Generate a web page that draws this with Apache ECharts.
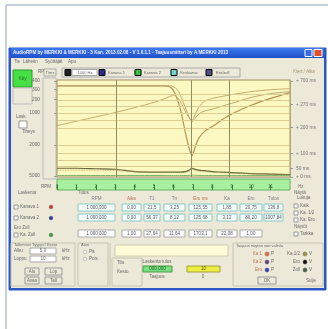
<!DOCTYPE html>
<html><head><meta charset="utf-8">
<script src="https://cdn.jsdelivr.net/npm/echarts@6/dist/echarts.min.js"></script>
<style>html,body{margin:0;padding:0;background:#fff}#c{width:328px;height:329px}</style>
</head><body><div id="c"></div>
<script>
// ---- data ----
const time = [0,1,2,3,4,5,5.5,5.8,6.0,6.2,6.4,6.6,6.8,6.95,7.1,7.3,7.6,8.0,8.5,9,10,11,12];
const ch1  = [94,94,94,94,94,94,94,93,89,80,66,47,30,22,30,40,47,52,59,65,74,81,87];
const ch2  = [53,57.5,62,66.5,71.5,77,80.5,83,84,82,76,68,61,58,64,72,78,81,83,85,88,90,91];
const diff = [94,94,94,94,94,94,94,94,93,90,82,72,62,57,60,65,68,70,73,76,82,86,88];
const zoll = [9,9,8.5,8,5.5,5,5,5,5,5,5,5.5,7,9,8,7,6.5,5.5,5,4.5,3.5,3,2.5];
const avg  = [7,7,7,6.5,5.5,5,5,5,5,5,5,5,6,7.5,7,6,5.5,5,4.5,4,3.5,3,2.5];
const base = [1.5,1.5,1.5,1.5,1.5,1.5,1.5,1.5,1.5,1.5,1.5,1.5,1.5,2,1.8,1.6,1.5,1.5,1.5,1.5,1.5,1.5,1.5];
const leftTicks = [99,90,80,66,33,1];
const leftLabels = ['400','300','200','1000','2000','5000'];
const rightTicks = [99,75,51,24,9,0];
const rightLabels = ['+ 700 ms','+ 270 ms','+ 200 ms','+ 100 ms','50 ms','+ 0 ms'];
const xTicks = [0,1,2,3,4,5,6,7,8,9,10,11];
const xLabels = ['0','1','2','3','4','5','6','7','8','9','10','11'];
const gridLines = [85,79,73,66,58,50.5,33,25,17.5,11];
const cursorX = [3.05,6.9,8.85];
const headers = ['RPM','Aika','T1','Tn','Ero ms','Ka','Ero','Tulos'];
const row1 = ['1 000,000','0,00','21,5','3,25','125,55','1,85','20,75','136,8'];
const row2 = ['1 000,000','0,00','56,37','8,12','125,68','3,12','80,20','1007,84'];
const row3 = ['1 000,000','1,00','27,64','11,64','1703,1','22,08','1,00',''];

// ---- helpers for window chrome ----
const g = [];
const F = '"Liberation Sans", Arial, sans-serif';
function R(x,y,w,h,fill,stroke,z){g.push({type:'rect',z:z==null?-5:z,shape:{x,y,width:w,height:h},style:{fill:fill||'none',stroke:stroke||null,lineWidth:1}});}
function T(x,y,s,o){o=o||{};g.push({type:'text',z:o.z==null?-4:o.z,style:{text:s,x,y,fill:o.c||'#6a6a6a',font:(o.b?'bold ':'')+(o.fs||5)+'px '+F,textAlign:o.a||'left',textVerticalAlign:'middle'}});}
function C(x,y,r,fill,stroke){g.push({type:'circle',z:-4,shape:{cx:x,cy:y,r},style:{fill,stroke:stroke||'#999',lineWidth:0.5}});}
function L(x1,y1,x2,y2,c,w){g.push({type:'line',z:-4,shape:{x1,y1,x2,y2},style:{stroke:c,lineWidth:w||1}});}
function box(x,y,w,h,s,c,fill){R(x,y,w,h,fill||'#fff',c||'#9cc',-4);T(x+w/2,y+h/2,s,{a:'center',fs:4.5,c:'#556'});}
function chk(x,y,s,dot){R(x,y-2,4,4,'#fff','#999',-4);T(x+6,y,s,{fs:4.5});if(dot)C(x+37,y,2,dot);}

// page frame
L(6,5,328,5,'#c8cfda',2);L(6,5,6,329,'#c8cfda',2);
// window
R(9,48,317,242,'#ece9d8','#2a56c6');
g.push({type:'rect',z:-5,shape:{x:9,y:48,width:317,height:10},style:{fill:new echarts.graphic.LinearGradient(0,0,0,1,[{offset:0,color:'#3c7af0'},{offset:1,color:'#1f4fc8'}])}});
L(9,289,326,289,'#2a56c6',2);L(10,48,10,290,'#2a56c6',2);L(325,48,325,290,'#2a56c6',2);
T(13,53,'AudioRPM by MERKKI & MERKKI - 3 Kan. 2013.02.08 - V 1.0.1.1 - Taajuusmittari by A.MERKKI 2013',{c:'#eef',fs:4.6,b:true});
R(305,49.5,7,7,'#3a6ee0','#fff',-4);R(314,49.5,8,7,'#e05030','#fff',-4);
T(14,62,'Tie',{fs:4.5});T(23,62,'Lähetin',{fs:4.5});T(45,62,'Syöttäjät',{fs:4.5});T(68,62,'Apu',{fs:4.5});
// start button etc
R(13,70,19,17,'#44e044','#2a9a2a',-4);T(22.5,78.5,'Käy',{a:'center',fs:4.5,c:'#2a6a2a'});
R(13,88,19,16,'#ece9d8','#bbb',-4);
T(16,117,'Lask.',{fs:4.5});R(19,121,8,7,'#fff','#999',-4);T(22,132,'Tiheys',{fs:4.5});
// legend row
T(38,72,'RPM',{fs:4.5});R(44,69,12,7,'#ece9d8','#aaa',-4);T(50,72.5,'T/ms',{a:'center',fs:4});
R(62,68,178,9,'#ece9d8','#aaa',-4);
R(65,69.5,6,6,'#222','#000',-4);R(72,69.5,25,6,'#fff','#aaa',-4);T(85,72.5,'1000 Hz',{a:'center',fs:4});
R(99,69.5,6,6,'#2a2a90','#000',-4);T(108,72.5,'Kanava 1',{fs:4});
R(135,69.5,6,6,'#38c040','#000',-4);T(144,72.5,'Kanava 2',{fs:4});
R(171,69.5,6,6,'#70d8d0','#000',-4);T(180,72.5,'Keskiarvo',{fs:4});
R(206,69.5,6,6,'#505080','#000',-4);T(216,72.5,'Ero/zoll',{fs:4});
T(293,72,'Kierr./ Aika',{fs:4.5,c:'#a09070'});
// left axis strip
R(43,78,13,101,'#ece9d8','#bbb',-4);
T(41,187,'RPM',{fs:4.5});T(298,187,'Hz',{fs:4.5});
// lower panel
T(18,193,'Laskenta',{fs:4.5});T(78,193,'Tulos',{fs:4.5});
chk(14,207,'Kanava 1','#d03020');chk(14,218,'Kanava 2','#2030a0');
T(14,228,'Ero Zoll',{fs:4.5});chk(14,235,'Ka. Zoll','#30a030');
const colX=[78,122,144,164,189,217,240,264], colW=[37,19,16,21,23,20,22,19];
for(let i=0;i<8;i++){
  T(colX[i]+colW[i]/2,199,headers[i],{a:'center',fs:4.5,c:i==1||i==4?'#c07050':'#778'});
  box(colX[i],204,colW[i],7,row1[i],'#8cc8c8','#f4fffc');
  box(colX[i],214,colW[i],7,row2[i],'#8cc8c8','#f4fffc');
  if(i<7) box(colX[i],230,colW[i],7,row3[i],'#aaa','#fff');
}
T(294,193,'Näytä',{fs:4.5});T(297,198,'Lukuja',{fs:4.5});
chk(294,206,'Kaik');chk(294,213,'Ka. 1/2');chk(294,220,'Ka. Ero');
T(294,227,'Näytöt',{fs:4.5});chk(294,234,'Tarkka');
// group 1
R(11,243,64,43,'none','#c8c4b0',-4);T(14,245,'Tallennus Tyyppi / Kesto',{fs:4});
T(14,251,'Alku',{fs:4.5});R(30,248,26,6,'#fff','#aaa',-4);T(43,251,'5,0',{a:'center',fs:4.5});T(62,251,'kHz',{fs:4.5});
T(14,259,'Loppu',{fs:4.5});R(30,256,26,6,'#fff','#aaa',-4);T(43,259,'10',{a:'center',fs:4.5});T(62,259,'kHz',{fs:4.5});
R(25,268,14,7,'#ece9d8','#999',-4);T(32,271.5,'Alo',{a:'center',fs:4.5});
R(45,268,17,7,'#ece9d8','#999',-4);T(53.5,271.5,'Lop',{a:'center',fs:4.5});
R(25,277,14,7,'#ece9d8','#999',-4);T(32,280.5,'Avaa',{a:'center',fs:4.5});
R(45,277,17,7,'#ece9d8','#999',-4);T(53.5,280.5,'Tall',{a:'center',fs:4.5});
// group 2
R(78,243,30,43,'none','#c8c4b0',-4);T(81,245,'Ääni',{fs:4});
C(85,252,1.8,'#fff');T(89,252,'Pä',{fs:4.5});C(85,259,1.8,'#fff');T(89,259,'Pois',{fs:4.5});
L(110,243,110,287,'#c8c4b0',1);
// middle
R(115,245,113,11,'#fffbd8','#d0ccb0',-4);
R(112,258,30,28,'none','#c8c4b0',-4);T(117,263,'Tila',{fs:4.5});T(117,272,'Kesto',{fs:4.5});
T(157,262,'Laskenta tulos',{a:'center',fs:4.5});
R(143,266,29,6,'#78e080','#4a9a4a',-4);T(157.5,269,'000,000',{a:'center',fs:4.5,c:'#246024'});
T(157,277,'Taajuus',{a:'center',fs:4.5});
R(187,266,33,6,'#f0ee40','#a0a040',-4);T(203.5,269,'10',{a:'center',fs:4.5,c:'#505010'});
T(203,277,'0',{a:'center',fs:4.5});
// group 3
R(233,243,90,43,'none','#c8c4b0',-4);T(236,246,'Taajuus näytön väri valinta',{fs:4});
const dots1=['#e07040','#604080','#4040c0'], dots2=['#a09040','#101010','#406040'];
const lab1=['Ka 1','Ka 2','Ero'], lab2=['Ka.1/2','Ero','Zoll'];
for(let i=0;i<3;i++){
  const y=254+i*8;
  T(262,y,lab1[i],{a:'right',fs:4.5,c:'#c07050'});C(267,y,2.2,dots1[i]);T(271,y,'P',{fs:4.5});
  T(300,y,lab2[i],{a:'right',fs:4.5});C(305,y,2.2,dots2[i]);T(309,y,'V',{fs:4.5});
}
R(258,277,18,7,'#ece9d8','#999',-4);T(267,280.5,'OK',{a:'center',fs:4.5});
T(311,280.5,'Sulje',{a:'center',fs:4.5});

function pairs(arr){return time.map((t,i)=>[t,arr[i]]);}
const lineS = (name,arr,color,w,type)=>({name,type:'line',xAxisIndex:0,yAxisIndex:0,data:pairs(arr),showSymbol:false,smooth:0.3,lineStyle:{color,width:w||1,type:type||'solid'},z:3});

const option = {
  animation:false,
  backgroundColor:'#fff',
  graphic:g,
  grid:[
    {left:57,top:80,width:233,height:97,show:true,backgroundColor:'#fcf8c2',borderColor:'#a09060',borderWidth:1},
    {left:57,top:179,width:233,height:11,show:true,backgroundColor:'#a6f0a0',borderColor:'#66b060',borderWidth:1}
  ],
  xAxis:[
    {gridIndex:0,type:'value',min:0,max:12,interval:1,axisLine:{show:false},axisTick:{show:false},axisLabel:{show:false},splitLine:{show:false}},
    {gridIndex:1,type:'value',min:0,max:12,interval:1,axisLine:{show:false},
     axisTick:{inside:true,length:5,lineStyle:{color:'#3a7a3a'},customValues:xTicks},
     axisLabel:{inside:true,margin:1,fontSize:4.5,color:'#3a6a3a',customValues:xTicks,formatter:v=>xLabels[xTicks.indexOf(v)]||''},splitLine:{show:false}}
  ],
  yAxis:[
    {gridIndex:0,type:'value',min:0,max:100,axisLine:{show:false},
     axisTick:{show:true,customValues:leftTicks,length:3,lineStyle:{color:'#999'}},
     axisLabel:{customValues:leftTicks,margin:17,fontSize:4.8,color:'#666',formatter:v=>leftLabels[leftTicks.indexOf(v)]},splitLine:{show:false}},
    {gridIndex:0,type:'value',min:0,max:100,position:'right',axisLine:{show:true,lineStyle:{color:'#b8a878'}},
     axisTick:{show:true,customValues:rightTicks,length:3,lineStyle:{color:'#999'}},
     axisLabel:{customValues:rightTicks,margin:6,fontSize:4.8,color:'#777',formatter:v=>rightLabels[rightTicks.indexOf(v)]},splitLine:{show:false}},
    {gridIndex:1,type:'value',min:0,max:1,show:false}
  ],
  series:[
    {type:'line',data:[],xAxisIndex:0,yAxisIndex:0,silent:true,
     markLine:{symbol:'none',silent:true,label:{show:false},
       data:gridLines.map(v=>({yAxis:v,lineStyle:{color:'#dccd92',width:1,type:'solid'}}))
        .concat(cursorX.map(v=>({xAxis:v,lineStyle:{color:'#8e8e66',width:1,type:'solid'}})))}},
    lineS('Kanava 1',ch1,'#b49250',1.2),
    lineS('Kanava 2',ch2,'#c8ac6c',1),
    lineS('Ero',diff,'#bea870',1),
    lineS('Zoll',zoll,'#66663a',1.2),
    lineS('Keskiarvo',avg,'#b49658',0.8,'dotted'),
    lineS('Pohja',base,'#78b468',1)
  ]
};
echarts.init(document.getElementById('c')).setOption(option);
</script></body></html>
